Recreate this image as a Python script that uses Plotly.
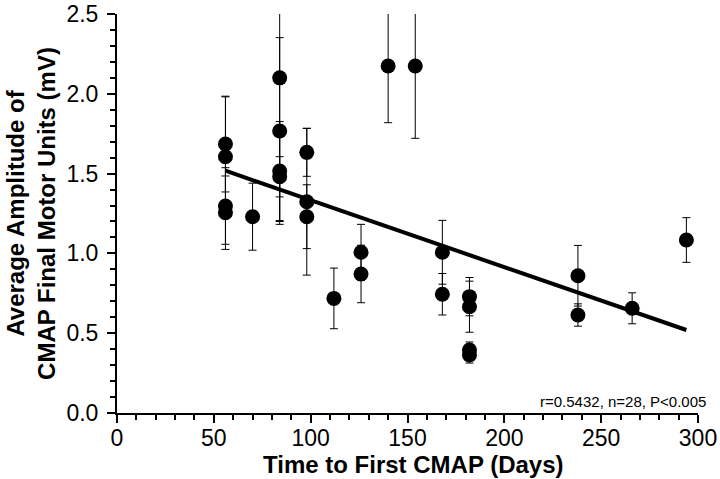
import plotly.graph_objects as go

# Data
days = [56, 56, 56, 56, 70, 84, 84, 84, 84, 98, 98, 98, 112, 126, 126,
        140, 154, 168, 168, 182, 182, 182, 182, 238, 238, 266, 294]
amplitude = [1.685, 1.606, 1.297, 1.255, 1.23, 2.10, 1.767, 1.516, 1.48,
             1.633, 1.324, 1.23, 0.718, 1.007, 0.871, 2.174, 2.174, 1.007,
             0.744, 0.729, 0.666, 0.395, 0.363, 0.86, 0.614, 0.656, 1.084]
sd = [0.30, 0.375, 0.24, 0.23, 0.21, 0.9, 0.585, 0.31, 0.126, 0.15, 0.46,
      0.2, 0.19, 0.175, 0.18, 0.355, 0.453, 0.2, 0.13, 0.12, 0.16, 0.05,
      0.05, 0.19, 0.07, 0.097, 0.14]

fit_days = [56, 294]
fit_amplitude = [1.518, 0.52]

x_ticks = [0, 50, 100, 150, 200, 250, 300]
y_ticks = [0.0, 0.5, 1.0, 1.5, 2.0, 2.5]
x_title = "Time to First CMAP (Days)"
y_title = "Average Amplitude of<br>CMAP Final Motor Units (mV)"
stats_text = "r=0.5432, n=28, P<0.005"

FONT = "Arial, Liberation Sans, sans-serif"

fig = go.Figure()
fig.add_trace(go.Scatter(
    x=days, y=amplitude, mode="markers",
    marker=dict(color="black", size=15),
    error_y=dict(type="data", array=sd, visible=True, color="black",
                 thickness=1, width=4),
    cliponaxis=True, showlegend=False))
fig.add_trace(go.Scatter(
    x=fit_days, y=fit_amplitude, mode="lines",
    line=dict(color="black", width=4), showlegend=False))

fig.add_annotation(x=1.018, xref="paper", y=0.075, yref="y",
                   text=stats_text, showarrow=False, xanchor="right",
                   yanchor="middle", font=dict(family=FONT, size=15, color="black"))
# axis titles
fig.add_annotation(x=0.5095, xref="paper", y=-0.130, yref="paper",
                   text="<b>" + x_title + "</b>", showarrow=False,
                   xanchor="center", yanchor="middle",
                   font=dict(family=FONT, size=24, color="black"))
fig.add_annotation(x=-0.149, xref="paper", y=0.5, yref="paper",
                   text="<b>" + y_title + "</b>", showarrow=False,
                   textangle=-90, xanchor="center", yanchor="middle",
                   font=dict(family=FONT, size=24, color="black"))

fig.update_layout(
    width=720, height=479,
    margin=dict(l=117, r=22, t=14, b=66),
    plot_bgcolor="white", paper_bgcolor="white",
    font=dict(family=FONT, color="black"),
    xaxis=dict(range=[0, 300], tickvals=x_ticks, ticks="outside",
               ticklen=8, tickwidth=2, tickcolor="black",
               showline=True, linewidth=2, linecolor="black",
               showgrid=False, zeroline=False, automargin=False,
               tickfont=dict(size=23, family=FONT), ticklabelstandoff=-5,
               ticklabeloverflow="allow",
               minor=dict(dtick=10, ticks="outside", ticklen=5,
                          tickwidth=1.5, tickcolor="black", showgrid=False)),
    yaxis=dict(range=[0, 2.5], tickvals=y_ticks, tickformat=".1f",
               ticks="outside", ticklen=8, tickwidth=2, tickcolor="black",
               showline=True, linewidth=2, linecolor="black",
               showgrid=False, zeroline=False, automargin=False,
               tickfont=dict(size=23, family=FONT), ticklabelstandoff=4,
               ticklabeloverflow="allow",
               minor=dict(dtick=0.1, ticks="outside", ticklen=5,
                          tickwidth=1.5, tickcolor="black", showgrid=False)),
)

fig.write_html("out.html", config={"displayModeBar": False},
               post_script="document.body.style.margin='0';")
